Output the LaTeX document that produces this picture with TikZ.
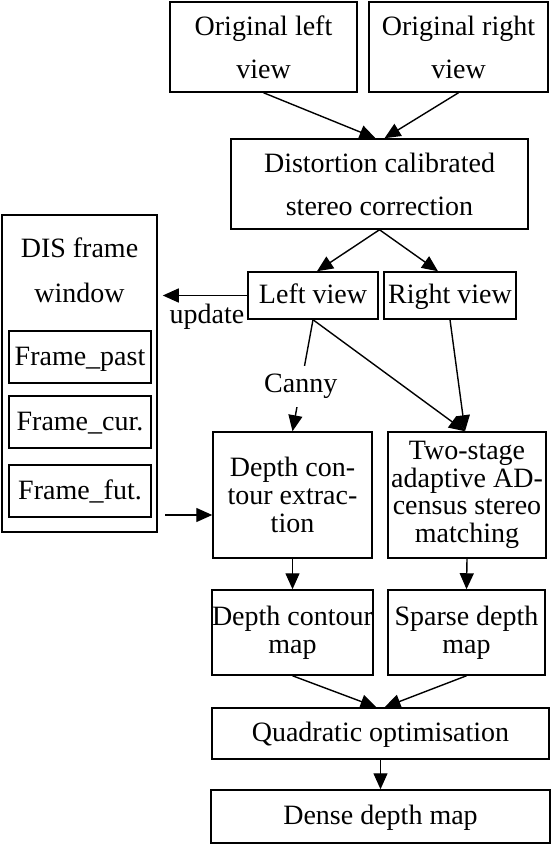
\documentclass[tikz,border=0pt]{standalone}
\usepackage{fontspec}
\setmainfont{Liberation Serif}
\usetikzlibrary{positioning, calc, arrows.meta}
\tikzset{
    stepnode/.style={rectangle, draw, line width=0.75pt, align=center, inner sep=0pt, font=\fontsize{14}{13.8}\selectfont},
    widenode/.style={stepnode, font=\fontsize{14}{21.5}\selectfont},
    linenode/.style={stepnode, text height=11pt, text depth=3pt},
    framenode/.style={linenode, minimum width=71pt, minimum height=26pt},
    arrow/.style={-{Triangle[length=8pt, width=7pt]}, line width=0.7pt},
}
\begin{document}
\begin{tikzpicture}[x=0.5pt, y=-0.5pt]
    \useasboundingbox (0,0) rectangle (558,844);

    % Eingang
    \node[widenode, minimum width=93.5pt, minimum height=45pt] (origL) at (263.5,47) {Original left\\view};
    \node[widenode, minimum width=89.5pt, minimum height=45pt] (origR) at (458.5,47) {Original right\\view};
    \node[widenode, minimum width=148.5pt, minimum height=45pt] (dist) at (379.5,184) {Distortion calibrated\\stereo correction};
    \node[linenode, minimum width=65pt, minimum height=23.5pt] (leftv) at (313,295.5) {Left view};
    \node[linenode, minimum width=66pt, minimum height=23.5pt] (rightv) at (450,295.5) {Right view};

    % Frame-Fenster
    \node[stepnode, minimum width=77.5pt, minimum height=158.5pt] (dis) at (79.5,373.5) {};
    \node[font=\fontsize{14}{22.5}\selectfont, align=center] (distitle) at (79.5,270) {DIS frame\\window};
    \node[framenode] (fpast) at (80,357) {Frame\_past};
    \node[framenode] (fcur) at (80,422) {Frame\_cur.};
    \node[framenode] (ffut) at (80,491) {Frame\_fut.};
    \coordinate (futin) at (165,515);

    % Verarbeitung
    \node[stepnode, minimum width=79.5pt, minimum height=63pt] (extr) at (292.5,495) {Depth con-\\tour extrac-\\tion};
    \node[stepnode, minimum width=79pt, minimum height=63pt] (match) at (467,495) {Two-stage\\adaptive AD-\\census stereo\\matching};
    \node[stepnode, minimum width=80.5pt, minimum height=42.5pt] (cmap) at (292.5,632.5) {Depth contour\\map};
    \node[stepnode, minimum width=78.5pt, minimum height=42.5pt] (smap) at (466.5,632.5) {Sparse depth\\map};
    \node[linenode, minimum width=168.5pt, minimum height=25.5pt] (quad) at (380.5,733.5) {Quadratic optimisation};
    \node[linenode, minimum width=169.5pt, minimum height=26.5pt] (dense) at (380.5,816.5) {Dense depth map};

    % Pfeile
    \draw[arrow] (origL.south) -- ([xshift=-2pt]dist.north);
    \draw[arrow] (origR.south) -- ([xshift=2.5pt]dist.north);
    \draw[arrow] (dist.south) -- ([xshift=2pt]leftv.north);
    \draw[arrow] (dist.south) -- ([xshift=-6pt]rightv.north);
    \draw[arrow, shorten >=2.5pt] (leftv.west) -- (leftv.west -| dis.east)
        node[below, pos=0.45, font=\fontsize{14}{13.8}\selectfont, inner sep=4pt] (upd) {update};
    \draw[arrow] (leftv.south) -- (extr.north)
        node[pos=0.6, fill=white, font=\fontsize{14}{13.8}\selectfont, inner sep=4pt] (canny) {Canny};
    \draw[arrow] (leftv.south) -- ([xshift=-1pt]match.north);
    \draw[arrow] (rightv.south) -- ([xshift=-1pt]match.north);
    \draw[arrow] (futin) -- (futin -| extr.west);
    \draw[arrow] (extr.south) -- (cmap.north);
    \draw[arrow] (match.south) -- (smap.north);
    \draw[arrow] (cmap.south) -- ([xshift=-2pt]quad.north);
    \draw[arrow] (smap.south) -- ([xshift=2pt]quad.north);
    \draw[arrow] (quad.south) -- (dense.north);
\end{tikzpicture}
\end{document}
